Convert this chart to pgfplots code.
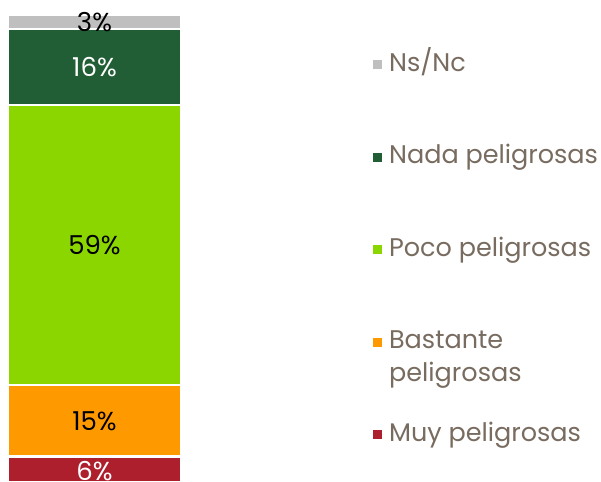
\documentclass[border=0pt]{standalone}
\usepackage{pgfplots}
\pgfplotsset{compat=1.18}
\usepackage{fontspec}
\setmainfont{Poppins}
\definecolor{cgrey}{HTML}{BFBFBF}
\definecolor{cdkgreen}{HTML}{225E35}
\definecolor{cltgreen}{HTML}{8CD600}
\definecolor{corange}{HTML}{FF9900}
\definecolor{cred}{HTML}{AE1F2E}
\definecolor{ctext}{HTML}{786B5F}
\newcommand\lstrut{\rule[-9bp]{0pt}{37bp}}
\begin{document}
\begin{tikzpicture}
\path[use as bounding box] (0bp,0bp) rectangle (601bp,482bp);
\begin{axis}[
  at={(8bp,0bp)}, anchor=south west,
  scale only axis, width=173bp, height=467.3bp,
  xmin=-0.5, xmax=0.5, ymin=0.63, ymax=99,
  hide axis, clip=true,
  ybar stacked, bar width=1, bar shift=0pt,
  point meta=explicit,
  /pgf/number format/assume math mode=true,
  nodes near coords={\pgfmathprintnumber{\pgfplotspointmeta}\%},
  every node near coord/.append style={anchor=center, font=\fontsize{26bp}{30bp}\selectfont},
  every axis plot/.append style={draw=white, line width=2.5bp},
  reverse legend,
  legend style={at={(axis description cs:2.092,0.9436)}, anchor=north west,
    draw=none, fill=none, font=\fontsize{25.5bp}{33bp}\selectfont, text=ctext,
    cells={anchor=base west}, row sep=63bp,
    nodes={inner sep=0pt},
    /tikz/every odd column/.style={column sep=7bp}},
  legend image code/.code={\fill[#1,draw=none] (0bp,2bp) rectangle (9bp,11bp);},
]
\addplot[fill=cred, every node near coord/.append style={text=white}] coordinates {(0,6) [6]};
\addlegendentry{\lstrut Muy peligrosas}
\addplot[fill=corange, every node near coord/.append style={text=black}] coordinates {(0,15) [15]};
\addlegendentry{\lstrut\makebox[0pt][l]{\raisebox{-33bp}[0pt][0pt]{peligrosas}}Bastante}
\addplot[fill=cltgreen, every node near coord/.append style={text=black}] coordinates {(0,59) [59]};
\addlegendentry{\lstrut Poco peligrosas}
\addplot[fill=cdkgreen, every node near coord/.append style={text=white}] coordinates {(0,16) [16]};
\addlegendentry{\lstrut Nada peligrosas}
\addplot[fill=cgrey, every node near coord/.append style={text=black}] coordinates {(0,3) [3]};
\addlegendentry{\lstrut Ns/Nc}
\end{axis}
\end{tikzpicture}
\end{document}
